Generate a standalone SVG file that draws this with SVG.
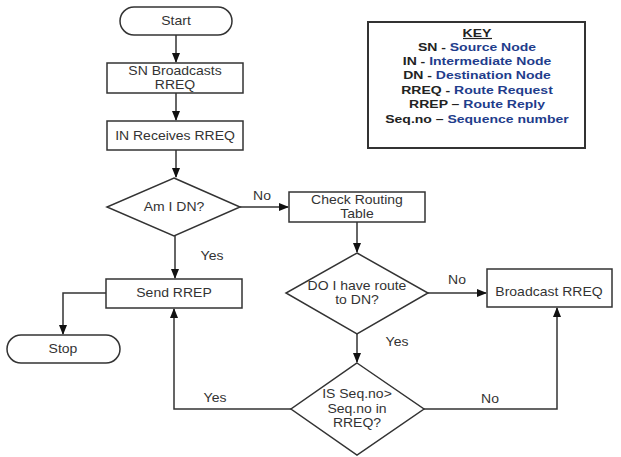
<svg xmlns="http://www.w3.org/2000/svg" width="621" height="457" viewBox="0 0 621 457">
<defs>
<marker id="ah" markerWidth="10" markerHeight="8" refX="9" refY="4" orient="auto" markerUnits="userSpaceOnUse">
<path d="M0,0 L10,4 L0,8 Z" fill="#111"/>
</marker>
<style>
.n{fill:#fff;stroke:#333;stroke-width:1.5}
.t{font-family:"Liberation Sans",Arial,sans-serif;font-size:14px;fill:#333;text-anchor:middle;dominant-baseline:central}
.c{fill:none;stroke:#333;stroke-width:1.5}
.k{font-family:"Liberation Sans",Arial,sans-serif;font-size:14px;font-weight:bold;fill:#222;text-anchor:middle;dominant-baseline:central}
.b{fill:#1f3d8c}
</style>
</defs>
<rect width="621" height="457" fill="#fff"/>
<g id="connectors">
<path class="c" d="M176,35 V62" marker-end="url(#ah)"/>
<path class="c" d="M176,93 V120" marker-end="url(#ah)"/>
<path class="c" d="M176,150 V177" marker-end="url(#ah)"/>
<path class="c" d="M240,207 H288" marker-end="url(#ah)"/>
<path class="c" d="M175,236 V278" marker-end="url(#ah)"/>
<path class="c" d="M357,222 V252" marker-end="url(#ah)"/>
<path class="c" d="M428,293 H486" marker-end="url(#ah)"/>
<path class="c" d="M357,334 V362" marker-end="url(#ah)"/>
<path class="c" d="M424,409 H557 V308" marker-end="url(#ah)"/>
<path class="c" d="M291,409 H174 V309" marker-end="url(#ah)"/>
<path class="c" d="M106,293 H63 V334" marker-end="url(#ah)"/>
<text class="t" transform="translate(262,196) scale(1,0.85)">No</text>
<text class="t" transform="translate(212,256) scale(1,0.85)">Yes</text>
<text class="t" transform="translate(457,280) scale(1,0.85)">No</text>
<text class="t" transform="translate(397,342) scale(1,0.85)">Yes</text>
<text class="t" transform="translate(490,399) scale(1,0.85)">No</text>
<text class="t" transform="translate(215,398) scale(1,0.85)">Yes</text>
</g>
<g id="start">
<rect class="n" x="120" y="7" width="112" height="28" rx="14"/>
<text class="t" transform="translate(176,21) scale(1,0.85)">Start</text>
</g>
<g id="sn-broadcasts">
<rect class="n" x="107" y="63" width="136" height="30"/>
<text class="t" transform="translate(175,71) scale(1,0.85)">SN Broadcasts</text>
<text class="t" transform="translate(175,85) scale(1,0.85)">RREQ</text>
</g>
<g id="in-receives">
<rect class="n" x="107" y="121" width="136" height="29"/>
<text class="t" transform="translate(175,135.5) scale(1,0.85)">IN Receives RREQ</text>
</g>
<g id="am-i-dn">
<polygon class="n" points="174,178 240,207 174,236 107,207"/>
<text class="t" transform="translate(174,207) scale(1,0.85)">Am I DN?</text>
</g>
<g id="check-routing">
<rect class="n" x="289" y="192" width="136" height="30"/>
<text class="t" transform="translate(357,199.5) scale(1,0.85)">Check Routing</text>
<text class="t" transform="translate(357,213.5) scale(1,0.85)">Table</text>
</g>
<g id="have-route">
<polygon class="n" points="357,253 428,293 357,334 286,293"/>
<text class="t" transform="translate(357,286) scale(1,0.85)">DO I have route</text>
<text class="t" transform="translate(357,300) scale(1,0.85)">to DN?</text>
</g>
<g id="broadcast-rreq">
<rect class="n" x="487" y="269" width="125" height="38"/>
<text class="t" transform="translate(549,292) scale(1,0.85)">Broadcast RREQ</text>
</g>
<g id="seq-check">
<polygon class="n" points="357,363 424,409 357,455 291,409"/>
<text class="t" transform="translate(357,394) scale(1,0.85)">IS Seq.no&gt;</text>
<text class="t" transform="translate(357,409) scale(1,0.85)">Seq.no in</text>
<text class="t" transform="translate(357,423) scale(1,0.85)">RREQ?</text>
</g>
<g id="send-rrep">
<rect class="n" x="106" y="279" width="136" height="29"/>
<text class="t" transform="translate(174,293) scale(1,0.85)">Send RREP</text>
</g>
<g id="stop">
<rect class="n" x="7" y="335" width="113" height="28" rx="14"/>
<text class="t" transform="translate(63,349) scale(1,0.85)">Stop</text>
</g>
<g id="key">
<rect x="368" y="22" width="217" height="126" fill="#fff" stroke="#333" stroke-width="2"/>
<text class="k" transform="translate(477,32.5) scale(1,0.82)">KEY</text>
<line x1="463" y1="38.5" x2="492" y2="38.5" stroke="#222" stroke-width="1.2"/>
<text class="k" transform="translate(477,46.5) scale(1,0.82)">SN - <tspan class="b">Source Node</tspan></text>
<text class="k" transform="translate(477,61) scale(1,0.82)">IN - <tspan class="b">Intermediate Node</tspan></text>
<text class="k" transform="translate(477,75) scale(1,0.82)">DN - <tspan class="b">Destination Node</tspan></text>
<text class="k" transform="translate(477,89.5) scale(1,0.82)">RREQ - <tspan class="b">Route Request</tspan></text>
<text class="k" transform="translate(477,104) scale(1,0.82)">RREP – <tspan class="b">Route Reply</tspan></text>
<text class="k" transform="translate(477,119) scale(1,0.82)">Seq.no – <tspan class="b">Sequence number</tspan></text>
</g>
</svg>
